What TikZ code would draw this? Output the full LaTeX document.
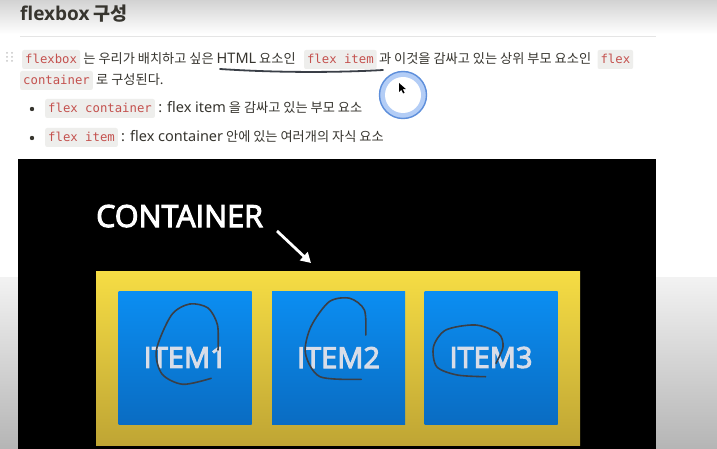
\documentclass[tikz,border=0pt]{standalone}
\usepackage{fontspec}
\setmainfont{Noto Sans CJK KR}
\setmonofont{DejaVu Sans Mono}
\newfontfamily\latfont{Noto Sans}
\newfontfamily\slidefont{Open Sans}
\newfontfamily\slidesemi[FakeBold=3.5]{Open Sans}
\usetikzlibrary{
    arrows.meta,
    positioning
}

\definecolor{bodytxt}{HTML}{37352F}
\definecolor{codered}{HTML}{C4514E}
\definecolor{codebg}{HTML}{EEEEEC}
\definecolor{boxtop}{HTML}{F6DD44}
\definecolor{boxbot}{HTML}{BFA534}
\definecolor{itemtop}{HTML}{0B8EF2}
\definecolor{itembot}{HTML}{0A6CC2}
\definecolor{itemtxt}{HTML}{D8DDE8}
\definecolor{ringblue}{HTML}{5E8FDB}
\definecolor{ringfill}{HTML}{B3CDF6}
\definecolor{scribblegray}{HTML}{3A3F47}

\newcommand{\lat}[1]{{\latfont\fontsize{14.5}{16}\selectfont #1}}

\begin{document}
\begin{tikzpicture}[x=1pt,y=-1pt,
    chip/.style={fill=codebg, rounded corners=2pt, inner xsep=3pt, inner ysep=3pt,
        text height=11pt, text depth=2pt, text=codered,
        font=\ttfamily\fontsize{12.3}{14}\selectfont},
    txt/.style={inner sep=0pt, text=bodytxt, font=\fontsize{13.2}{15}\selectfont},
    itembox/.style={top color=itemtop, bottom color=itembot, minimum width=133pt,
        minimum height=133pt, inner sep=0pt, text=itemtxt,
        font=\slidesemi\fontsize{29}{29}\selectfont},
    scribble/.style={draw=scribblegray, line width=1.6pt, line cap=round, line join=round}
]
\useasboundingbox (0,0) rectangle (717,449);

% Page background
\fill[white] (0,0) rectangle (717,449);
\shade[top color=gray!35, bottom color=white] (0,0) rectangle (717,34);
\shade[top color=gray!10, bottom color=gray!58] (0,277) rectangle (717,449);
\draw[gray!20, line width=0.6pt] (20,36) -- (656,36);

% Title
\node[anchor=base west, inner sep=0pt, text=bodytxt, font=\bfseries\fontsize{18.5}{20}\selectfont]
    (title) at (20,21) {{\slidefont\bfseries\fontsize{19}{20}\selectfont flexbox} 구성};

% Drag handle
\foreach \hy in {53,57,61} {
    \fill[gray!45] (7,\hy) circle (1pt);
    \fill[gray!45] (12,\hy) circle (1pt);
}

% First paragraph
\node[chip, anchor=base west] (chipfb) at (22,64) {flexbox};
\node[txt, base right=3pt of chipfb] (lineA) {는 우리가 배치하고 싶은 \lat{HTML} 요소인};
\node[chip, base right=8pt of lineA] (chipfi) {flex item};
\node[txt, base right=2pt of chipfi] (lineB) {과 이것을 감싸고 있는 상위 부모 요소인};
\node[chip, base right=6pt of lineB] (chipfl) {flex};
\node[chip, anchor=base west] (chipct) at (20,85) {container};
\node[txt, base right=3pt of chipct] (lineC) {로 구성된다.};

% Bullets
\fill[bodytxt] (32,109) circle (2.2pt);
\node[chip, anchor=base west] (chipfc) at (45,113) {flex container};
\node[txt, base right=3pt of chipfc] (lineD) {\lat{: flex item} 을 감싸고 있는 부모 요소};
\fill[bodytxt] (32,138) circle (2.2pt);
\node[chip, anchor=base west] (chipit) at (45,142) {flex item};
\node[txt, base right=3pt of chipit] (lineE) {\lat{: flex container} 안에 있는 여러개의 자식 요소};

% Hand drawn underline
\draw[scribble, line width=1.8pt] (220,69) .. controls (280,73) and (340,72.5) .. (383,70);

% Mouse cursor ring
\fill[ringfill] (403,95) circle (24);
\draw[ringblue, line width=1.4pt] (403,95) circle (23.5);
\fill[white] (403,95) circle (18);
\fill[black] (399,83) -- (399,92) -- (401.3,89.8) -- (403.2,93.5) -- (404.6,92.8)
    -- (402.8,89.2) -- (405.8,89) -- cycle;

% Slide
\fill[black] (18,159) rectangle (656,449);
\node[anchor=base west, inner sep=0pt, text=white, font=\slidesemi\fontsize{30.5}{31}\selectfont]
    (label) at (96,227) {CONTAINER};
\coordinate (arrS) at (277,231);
\coordinate (arrE) at (311,263);
\draw[white, line width=2.8pt, -{Triangle[length=10pt,width=11pt]}] (arrS) -- (arrE);

% Flex container and items
\node[top color=boxtop, bottom color=boxbot, minimum width=484pt, minimum height=174pt,
    inner sep=0pt] (box) at (338,358) {};
\node[itembox] (item1) at (185.2,357.5) {ITEM1};
\node[itembox] (item2) at (338.5,357.5) {ITEM2};
\node[itembox] (item3) at (491,357.5) {ITEM3};

% Scribbles on items
\draw[scribble] plot[smooth] coordinates {(218,350) (217.5,325) (208,308) (189.7,304)
    (171.5,315) (156.4,350) (162,374) (182.9,384.3) (211.2,378.3)};
\draw[scribble] plot[smooth] coordinates {(365.8,335) (364.4,310) (349.8,298.3) (329.2,301.7)
    (310.9,326.7) (305.4,353.3) (320,376.7) (361.2,379.3)};
\draw[scribble] plot[smooth] coordinates {(496,363.3) (503,346.7) (498.4,333.3) (475.5,325)
    (445.8,330) (433.5,346.7) (436.7,366.7) (457.2,375) (485.6,376.7)};

\end{tikzpicture}
\end{document}
